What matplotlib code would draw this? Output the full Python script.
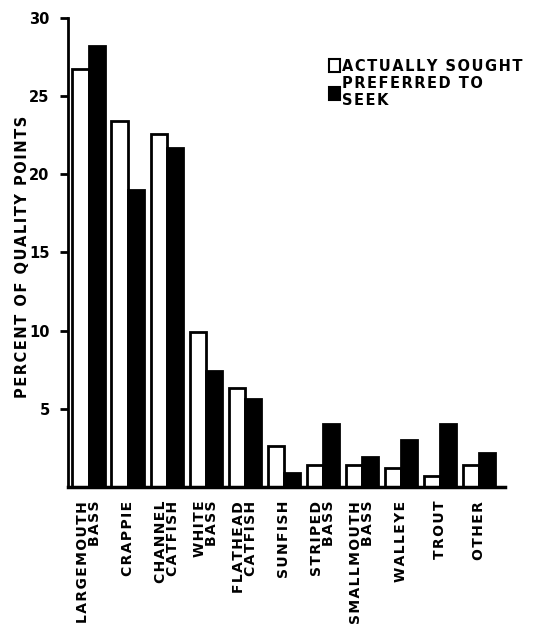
import matplotlib.pyplot as plt
import numpy as np

# Dados
species = ['LARGEMOUTH\nBASS', 'CRAPPIE', 'CHANNEL\nCATFISH', 'WHITE\nBASS',
           'FLATHEAD\nCATFISH', 'SUNFISH', 'STRIPED\nBASS', 'SMALLMOUTH\nBASS',
           'WALLEYE', 'TROUT', 'OTHER']
actually_sought = [26.7, 23.4, 22.6, 9.9, 6.3, 2.6, 1.4, 1.4, 1.2, 0.7, 1.4]
preferred = [28.2, 19.0, 21.7, 7.4, 5.6, 0.9, 4.0, 1.9, 3.0, 4.0, 2.2]
yticks = [5, 10, 15, 20, 25, 30]


# espaçamento entre letras (estilo letra de normógrafo)
def spaced(s):
    return '\n'.join('\u200a'.join(line) for line in s.split('\n'))


font = {'family': 'DejaVu Sans', 'weight': 'heavy'}

fig = plt.figure(figsize=(5.38, 6.39), dpi=100)
ax = fig.add_axes([0.126, 0.238, 0.813, 0.734])

x = np.arange(len(species))
w = 0.42
ax.bar(x - w / 2, actually_sought, w, color='white', edgecolor='black',
       linewidth=2, label=spaced('ACTUALLY SOUGHT'))
ax.bar(x + w / 2, preferred, w, color='black', edgecolor='black',
       linewidth=2, label=spaced('PREFERRED TO\nSEEK'))

ax.set_xlim(-0.54, 10.67)
ax.set_ylim(0, 30)

ax.spines['top'].set_visible(False)
ax.spines['right'].set_visible(False)
ax.spines['left'].set_linewidth(2)
ax.spines['bottom'].set_linewidth(2.5)

ax.set_yticks(yticks)
ax.set_yticklabels([str(t) for t in yticks], fontdict=dict(font, size=10.5))
ax.tick_params(axis='y', direction='out', length=6, width=2, pad=7)

ax.set_xticks(x)
ax.set_xticklabels([spaced(s) for s in species], rotation=90, va='top',
                   ha='center', multialignment='right',
                   fontdict=dict(font, size=10), linespacing=0.85)
ax.tick_params(axis='x', length=0, pad=10)

ax.set_ylabel(spaced('PERCENT OF QUALITY POINTS'),
              fontdict=dict(font, size=10.5))
ax.yaxis.set_label_coords(-0.087, 0.49)

leg = ax.legend(loc='upper left', bbox_to_anchor=(0.585, 0.925), frameon=False,
                handlelength=0.75, handleheight=1.0, handletextpad=0.1,
                labelspacing=0.15, borderaxespad=0,
                prop={'family': 'DejaVu Sans', 'weight': 'heavy', 'size': 10.5})
for h in leg.legend_handles:
    h.set_linewidth(1.5)

plt.savefig('out.png', dpi=100)
